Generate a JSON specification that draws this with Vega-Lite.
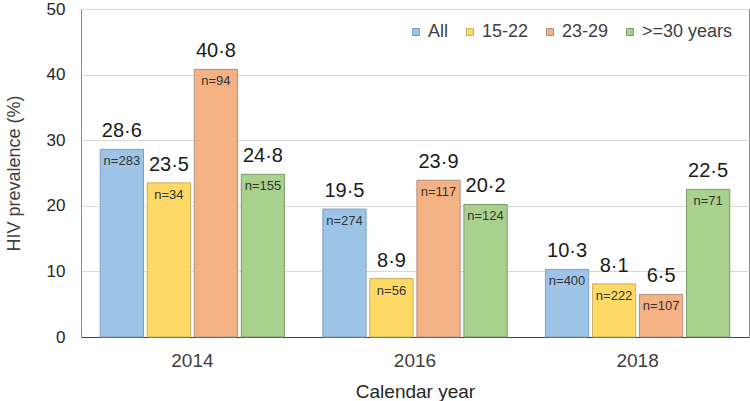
{
  "$schema": "https://vega.github.io/schema/vega-lite/v6.json",
  "autosize": {"type": "none"},
  "width": 668,
  "height": 328,
  "padding": {"left": 81, "top": 9, "right": 1, "bottom": 64},
  "background": "white",
  "config": {
    "font": "Liberation Sans",
    "view": {"stroke": "#8c8c8c", "strokeWidth": 1}
  },
  "data": {
    "values": [
      {"year": "2014", "group": "All", "value": 28.6, "label": "28·6", "n": "n=283"},
      {"year": "2014", "group": "15-22", "value": 23.5, "label": "23·5", "n": "n=34"},
      {"year": "2014", "group": "23-29", "value": 40.8, "label": "40·8", "n": "n=94"},
      {"year": "2014", "group": ">=30 years", "value": 24.8, "label": "24·8", "n": "n=155"},
      {"year": "2016", "group": "All", "value": 19.5, "label": "19·5", "n": "n=274"},
      {"year": "2016", "group": "15-22", "value": 8.9, "label": "8·9", "n": "n=56"},
      {"year": "2016", "group": "23-29", "value": 23.9, "label": "23·9", "n": "n=117"},
      {"year": "2016", "group": ">=30 years", "value": 20.2, "label": "20·2", "n": "n=124"},
      {"year": "2018", "group": "All", "value": 10.3, "label": "10·3", "n": "n=400"},
      {"year": "2018", "group": "15-22", "value": 8.1, "label": "8·1", "n": "n=222"},
      {"year": "2018", "group": "23-29", "value": 6.5, "label": "6·5", "n": "n=107"},
      {"year": "2018", "group": ">=30 years", "value": 22.5, "label": "22·5", "n": "n=71"}
    ]
  },
  "encoding": {
    "x": {
      "field": "year", "type": "nominal",
      "scale": {"paddingInner": 0.155, "paddingOuter": 0.078},
      "axis": {
        "title": "Calendar year", "labelAngle": 0, "labelFontSize": 19, "labelColor": "#404040",
        "titleFontSize": 19, "titleFontWeight": "normal", "titleColor": "#262626",
        "domainColor": "#404040", "ticks": false, "labelPadding": 14, "titlePadding": 12
      }
    },
    "xOffset": {
      "field": "group", "type": "nominal",
      "sort": ["All", "15-22", "23-29", ">=30 years"],
      "scale": {"paddingInner": 0.08, "paddingOuter": 0.04}
    },
    "y": {
      "field": "value", "type": "quantitative",
      "scale": {"domain": [0, 50]},
      "axis": {
        "title": "HIV prevalence (%)", "values": [0, 10, 20, 30, 40, 50],
        "labelFontSize": 17, "labelColor": "#262626", "labelPadding": 16,
        "titleFontSize": 18, "titleFontWeight": "normal", "titleColor": "#404040", "titlePadding": 23,
        "ticks": false, "domainColor": "#8c8c8c", "gridColor": "#d9d9d9"
      }
    }
  },
  "layer": [
    {
      "mark": {"type": "bar", "strokeWidth": 1},
      "encoding": {
        "color": {
          "field": "group", "type": "nominal",
          "sort": ["All", "15-22", "23-29", ">=30 years"],
          "scale": {"domain": ["All", "15-22", "23-29", ">=30 years"], "range": ["#9dc3e6", "#ffd966", "#f4b183", "#a9d18e"]},
          "legend": {
            "title": null, "orient": "none", "direction": "horizontal",
            "legendX": 326, "legendY": 14, "symbolType": "square", "symbolSize": 49,
            "symbolStrokeWidth": 1, "symbolStrokeColor": "#8c8c8c",
            "labelFontSize": 18, "labelColor": "#404040", "labelOffset": 3, "columnPadding": 12
          }
        },
        "stroke": {
          "field": "group", "type": "nominal",
          "scale": {"domain": ["All", "15-22", "23-29", ">=30 years"], "range": ["#7f9fc4", "#c9b060", "#b09080", "#7a9a6a"]},
          "legend": null
        }
      }
    },
    {
      "mark": {"type": "text", "baseline": "bottom", "dy": -8, "fontSize": 20, "color": "#1a1a1a"},
      "encoding": {"text": {"field": "label"}}
    },
    {
      "mark": {"type": "text", "baseline": "top", "dy": 6, "fontSize": 13, "color": "#333333"},
      "encoding": {"text": {"field": "n"}}
    }
  ]
}
